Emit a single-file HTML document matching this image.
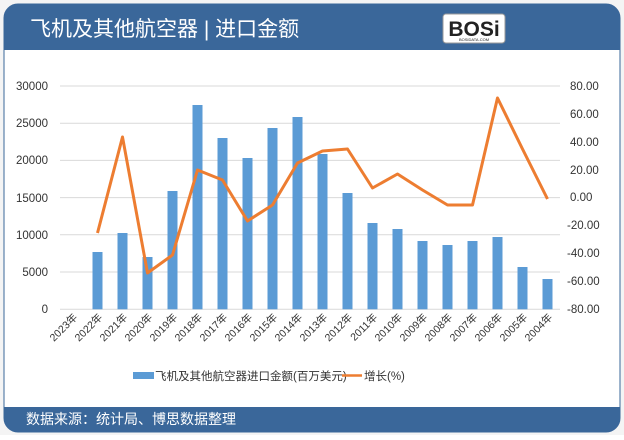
<!DOCTYPE html>
<html><head><meta charset="utf-8"><style>
body{margin:0;width:624px;height:435px;background:#fff;overflow:hidden;font-family:"Liberation Sans","Noto Sans CJK SC",sans-serif}
</style></head><body>
<svg width="624" height="435" xmlns="http://www.w3.org/2000/svg" font-family="Liberation Sans, Noto Sans CJK SC, sans-serif">
<rect x="0" y="0" width="624" height="435" fill="#f4f4f4"/>
<rect x="4" y="4" width="616" height="428" rx="14" fill="#fff" stroke="#3a679a" stroke-width="1"/>
<path d="M4 50 V18 a14 14 0 0 1 14 -14 H606 a14 14 0 0 1 14 14 V50 Z" fill="#3a679a"/>
<path d="M4 407 H620 V418 a14 14 0 0 1 -14 14 H18 a14 14 0 0 1 -14 -14 Z" fill="#3a679a"/>
<text x="30" y="36" font-size="21" fill="#fff">飞机及其他航空器 | 进口金额</text>
<rect x="443" y="14" width="62" height="29" rx="3" fill="#fff" stroke="#999"/>
<text x="474" y="36" font-size="21" font-weight="bold" fill="#222" text-anchor="middle">BOSi</text>
<text x="474" y="41" font-size="4" fill="#222" text-anchor="middle">BOSIDATA.COM</text>
<text x="26" y="424" font-size="14" fill="#fff">数据来源：统计局、博思数据整理</text>
<g stroke="#d9d9d9" stroke-width="1">
<line x1="60" x2="560" y1="86" y2="86"/><line x1="60" x2="560" y1="123.2" y2="123.2"/>
<line x1="60" x2="560" y1="160.4" y2="160.4"/><line x1="60" x2="560" y1="197.6" y2="197.6"/>
<line x1="60" x2="560" y1="234.8" y2="234.8"/><line x1="60" x2="560" y1="272" y2="272"/>
<line x1="60" x2="560" y1="309.3" y2="309.3"/>
</g>
<g font-size="11.5" fill="#333" text-anchor="end">
<text x="48" y="90">30000</text><text x="48" y="127">25000</text><text x="48" y="164">20000</text>
<text x="48" y="202">15000</text><text x="48" y="239">10000</text><text x="48" y="276">5000</text><text x="48" y="313">0</text>
</g>
<g font-size="11.5" fill="#333">
<text x="570" y="90">80.00</text><text x="570" y="118">60.00</text><text x="570" y="146">40.00</text>
<text x="570" y="174">20.00</text><text x="570" y="201">0.00</text><text x="567" y="229">-20.00</text>
<text x="567" y="257">-40.00</text><text x="567" y="285">-60.00</text><text x="567" y="313">-80.00</text>
</g>
<g fill="#5b9bd5">
<rect x="92.5" y="252" width="10" height="57.3"/>
<rect x="117.5" y="233" width="10" height="76.3"/>
<rect x="142.5" y="257" width="10" height="52.3"/>
<rect x="167.5" y="191" width="10" height="118.3"/>
<rect x="192.5" y="105" width="10" height="204.3"/>
<rect x="217.5" y="138" width="10" height="171.3"/>
<rect x="242.5" y="158" width="10" height="151.3"/>
<rect x="267.5" y="128" width="10" height="181.3"/>
<rect x="292.5" y="117" width="10" height="192.3"/>
<rect x="317.5" y="154" width="10" height="155.3"/>
<rect x="342.5" y="193" width="10" height="116.3"/>
<rect x="367.5" y="223" width="10" height="86.3"/>
<rect x="392.5" y="229" width="10" height="80.3"/>
<rect x="417.5" y="241" width="10" height="68.3"/>
<rect x="442.5" y="245" width="10" height="64.3"/>
<rect x="467.5" y="241" width="10" height="68.3"/>
<rect x="492.5" y="237" width="10" height="72.3"/>
<rect x="517.5" y="267" width="10" height="42.3"/>
<rect x="542.5" y="279" width="10" height="30.3"/>
</g>
<polyline fill="none" stroke="#ed7d31" stroke-width="3" stroke-linejoin="round" points="97.5,233 122.5,137 147.5,273 172.5,255 197.5,170 222.5,180 247.5,221 272.5,205 297.5,163 322.5,151 347.5,149 372.5,188 397.5,174 422.5,190 447.5,205 472.5,205 497.5,98 522.5,149 547.5,199"/>
<g font-size="10.5" fill="#333" text-anchor="end">
<text transform="translate(78,318) rotate(-45)">2023年</text>
<text transform="translate(103,318) rotate(-45)">2022年</text>
<text transform="translate(128,318) rotate(-45)">2021年</text>
<text transform="translate(153,318) rotate(-45)">2020年</text>
<text transform="translate(178,318) rotate(-45)">2019年</text>
<text transform="translate(203,318) rotate(-45)">2018年</text>
<text transform="translate(228,318) rotate(-45)">2017年</text>
<text transform="translate(253,318) rotate(-45)">2016年</text>
<text transform="translate(278,318) rotate(-45)">2015年</text>
<text transform="translate(303,318) rotate(-45)">2014年</text>
<text transform="translate(328,318) rotate(-45)">2013年</text>
<text transform="translate(353,318) rotate(-45)">2012年</text>
<text transform="translate(378,318) rotate(-45)">2011年</text>
<text transform="translate(403,318) rotate(-45)">2010年</text>
<text transform="translate(428,318) rotate(-45)">2009年</text>
<text transform="translate(453,318) rotate(-45)">2008年</text>
<text transform="translate(478,318) rotate(-45)">2007年</text>
<text transform="translate(503,318) rotate(-45)">2006年</text>
<text transform="translate(528,318) rotate(-45)">2005年</text>
<text transform="translate(553,318) rotate(-45)">2004年</text>
</g>
<rect x="133" y="372" width="21" height="7" fill="#5b9bd5"/>
<text x="155" y="380" font-size="11.5" fill="#333">飞机及其他航空器进口金额(百万美元)</text>
<line x1="342" x2="362" y1="375.5" y2="375.5" stroke="#ed7d31" stroke-width="2.5"/>
<text x="364" y="380" font-size="11.5" fill="#333">增长(%)</text>
</svg>
</body></html>
